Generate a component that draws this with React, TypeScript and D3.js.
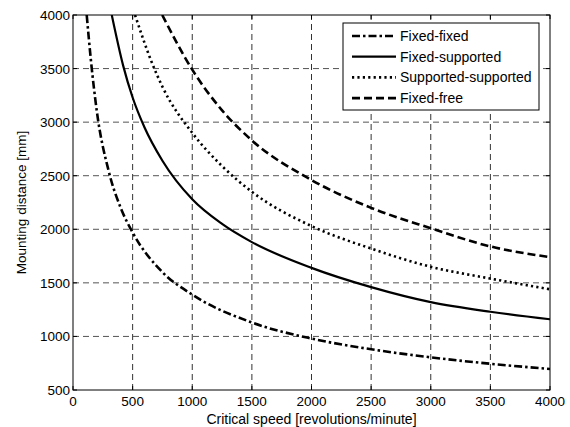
import React from 'react';
import * as d3 from 'd3';

// [critical speed (rpm), mounting distance (mm)]
const fixedFixed: [number, number][] = [
  [115, 4000], [150, 3580], [200, 3100], [300, 2540], [400, 2200], [500, 1970],
  [750, 1600], [1000, 1390], [1500, 1130], [2000, 980], [2500, 880],
  [3000, 805], [3500, 745], [4000, 696],
];
const fixedSupported: [number, number][] = [
  [325, 4000], [420, 3530], [500, 3230], [600, 2950], [750, 2640], [1000, 2280],
  [1250, 2050], [1500, 1880], [2000, 1640], [2500, 1460], [3000, 1320],
  [3500, 1230], [4000, 1160],
];
const supportedSupported: [number, number][] = [
  [520, 4000], [660, 3560], [750, 3330], [1000, 2900], [1250, 2590], [1500, 2350],
  [2000, 2030], [2500, 1820], [3000, 1650], [3500, 1540], [4000, 1440],
];
const fixedFree: [number, number][] = [
  [748, 4000], [1000, 3490], [1250, 3110], [1500, 2830], [2000, 2460],
  [2500, 2200], [3000, 2010], [3500, 1840], [4000, 1740],
];

const seriesNames = ['Fixed-fixed', 'Fixed-supported', 'Supported-supported', 'Fixed-free'];
const xTicks = [0, 500, 1000, 1500, 2000, 2500, 3000, 3500, 4000];
const yTicks = [500, 1000, 1500, 2000, 2500, 3000, 3500, 4000];

const W = 570;
const H = 427;
const m = { left: 73, right: 20, top: 15, bottom: 37 };

const styles = [
  { dash: '8,3,2.5,3', width: 2.6 },
  { dash: null, width: 2.2 },
  { dash: '2.2,3.2', width: 2.6 },
  { dash: '8,4', width: 2.6 },
];

const font = 'Liberation Sans, Arial, sans-serif';

export default function App() {
  const x = d3.scaleLinear().domain([0, 4000]).range([m.left, W - m.right]);
  const y = d3.scaleLinear().domain([500, 4000]).range([H - m.bottom, m.top]);
  const line = d3.line<[number, number]>()
    .x(d => x(d[0]))
    .y(d => y(d[1]))
    .curve(d3.curveMonotoneX);

  const data = [fixedFixed, fixedSupported, supportedSupported, fixedFree];
  const x0 = x(0), x1 = x(4000), y0 = y(500), y1 = y(4000);

  const lx = 343, ly = 23, lw = 196, lh = 87;

  return (
    <svg width={W} height={H} style={{ position: 'absolute', left: 0, top: 0 }}>
      <rect width={W} height={H} fill="#fff" />
      {/* grid */}
      {xTicks.slice(1, -1).map(t => (
        <line key={'gx' + t} x1={x(t)} x2={x(t)} y1={y0} y2={y1}
          stroke="#333" strokeWidth={1} strokeDasharray="6,4" />
      ))}
      {yTicks.slice(1, -1).map(t => (
        <line key={'gy' + t} x1={x0} x2={x1} y1={y(t)} y2={y(t)}
          stroke="#555" strokeWidth={1} strokeDasharray="6,4" />
      ))}
      {/* ticks */}
      {xTicks.map(t => (
        <g key={'tx' + t}>
          <line x1={x(t)} x2={x(t)} y1={y0} y2={y0 - 4} stroke="#000" />
          <line x1={x(t)} x2={x(t)} y1={y1} y2={y1 + 4} stroke="#000" />
          <text x={x(t)} y={y0 + 16} textAnchor="middle" fontSize={13.5} fontFamily={font}>{t}</text>
        </g>
      ))}
      {yTicks.map(t => (
        <g key={'ty' + t}>
          <line x1={x0} x2={x0 + 4} y1={y(t)} y2={y(t)} stroke="#000" />
          <line x1={x1} x2={x1 - 4} y1={y(t)} y2={y(t)} stroke="#000" />
          <text x={x0 - 3} y={y(t) + 5} textAnchor="end" fontSize={13.5} fontFamily={font}>{t}</text>
        </g>
      ))}
      {/* curves */}
      <g clipPath="url(#clip)">
        {data.map((d, i) => (
          <path key={i} d={line(d) || ''} fill="none" stroke="#000"
            strokeWidth={styles[i].width}
            strokeDasharray={styles[i].dash || undefined} />
        ))}
      </g>
      <defs>
        <clipPath id="clip">
          <rect x={x0} y={y1} width={x1 - x0} height={y0 - y1} />
        </clipPath>
      </defs>
      {/* frame */}
      <rect x={x0} y={y1} width={x1 - x0} height={y0 - y1} fill="none" stroke="#000" strokeWidth={1} />
      {/* legend */}
      <rect x={lx} y={ly} width={lw} height={lh} fill="#fff" stroke="#000" strokeWidth={1} />
      {seriesNames.map((n, i) => {
        const yy = ly + 13 + i * 20.7;
        return (
          <g key={n}>
            <line x1={lx + 9} x2={lx + 53} y1={yy} y2={yy} stroke="#000"
              strokeWidth={styles[i].width} strokeDasharray={styles[i].dash || undefined} />
            <text x={lx + 57} y={yy + 5} fontSize={14} fontFamily={font}>{n}</text>
          </g>
        );
      })}
      {/* axis labels */}
      <text x={(x0 + x1) / 2} y={H - 3} textAnchor="middle" fontSize={14} fontFamily={font}>
        Critical speed [revolutions/minute]
      </text>
      <text transform={`translate(26,${(y0 + y1) / 2}) rotate(-90)`} textAnchor="middle"
        fontSize={13.5} fontFamily={font}>Mounting distance [mm]</text>
    </svg>
  );
}
